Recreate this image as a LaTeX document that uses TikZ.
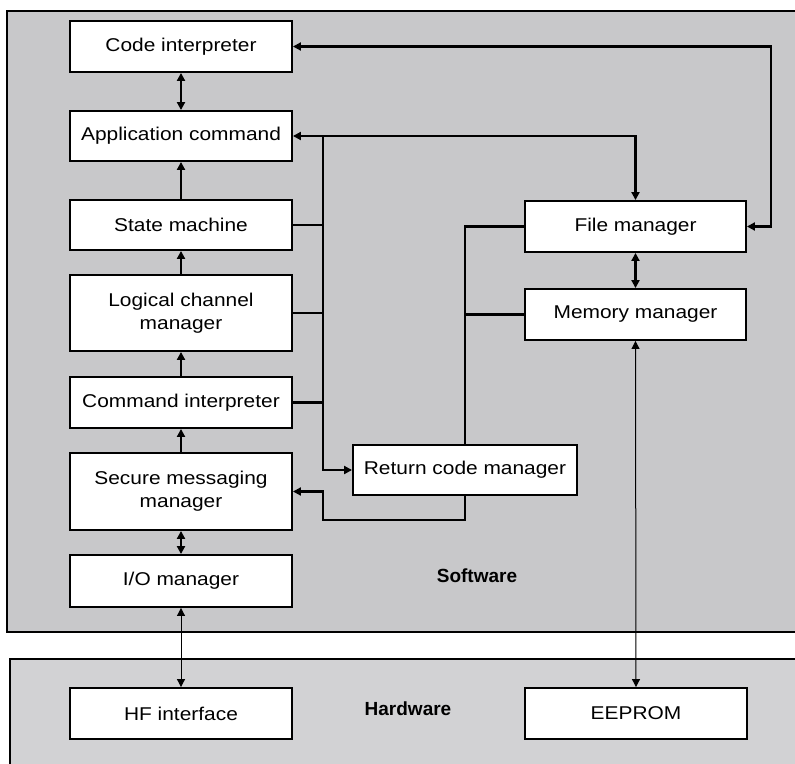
\documentclass[tikz,border=0pt]{standalone}
\usepackage{fontspec}
\setmainfont{Liberation Sans}[FakeStretch=1.13]
\newfontfamily\labfont{Liberation Sans}
\usetikzlibrary{arrows.meta}
\definecolor{swgray}{RGB}{200,200,202}
\definecolor{hwgray}{RGB}{210,210,212}
\tikzset{
  box/.style={draw=black, line width=1.9pt, fill=white, minimum width=222pt,
    inner sep=2pt, align=center, font=\fontsize{18.5}{23}\selectfont},
  conn/.style={draw=black, line width=2.2pt},
  thin/.style={draw=black, line width=1pt},
  tip/.style={arrows={-Triangle[length=8pt,width=8pt]}},
  tips/.style={arrows={Triangle[length=8pt,width=8pt]-Triangle[length=8pt,width=8pt]}},
  panel/.style={draw=black, line width=1.6pt},
  plab/.style={font=\labfont\bfseries\fontsize{19}{22}\selectfont}
}
\begin{document}
\begin{tikzpicture}[x=1pt,y=-1pt]
\useasboundingbox (0,0) rectangle (795,763);
\fill[white] (0,0) rectangle (795,763);
\begin{scope}
\clip (0,0) rectangle (795,763);
\draw[panel, fill=swgray] (7,11) rectangle (810,632);
\draw[panel, fill=hwgray] (10,659) rectangle (810,790);
\end{scope}

% left column
\node[box, minimum height=51pt] (code) at (181,46.5) {Code interpreter};
\node[box, minimum height=50pt] (app) at (181,136) {Application command};
\node[box, minimum height=50pt] (state) at (181,225) {State machine};
\node[box, minimum height=76pt] (lcm) at (181,313) {Logical channel\\manager};
\node[box, minimum height=51pt] (cmd) at (181,402.5) {Command interpreter};
\node[box, minimum height=77pt] (sec) at (181,491.5) {Secure messaging\\manager};
\node[box, minimum height=52pt] (io) at (181,581) {I/O manager};
\node[box, minimum height=51pt] (hf) at (181,713.5) {HF interface};

% right column
\node[box, minimum width=221pt, minimum height=51pt] (file) at (635.5,226.5) {File manager};
\node[box, minimum width=221pt, minimum height=51pt] (mem) at (635.5,314.5) {Memory manager};
\node[box, minimum width=222pt, minimum height=51pt] (eep) at (636,713.5) {EEPROM};
\node[box, minimum width=224pt, minimum height=50pt] (ret) at (465,470) {Return code manager};

% panel labels
\node[plab] (sw) at (477,576) {Software};
\node[plab] (hw) at (408,709) {Hardware};

% helper coordinates
\coordinate (cR) at (771,46.5);
\coordinate (bt) at (323,136);
\coordinate (lp) at (323,520);

% vertical chain
\draw[conn, tips] (app.north) -- (code.south);
\draw[conn, tip] (state.north) -- (app.south);
\draw[conn, tip] (lcm.north) -- (state.south);
\draw[conn, tip] (cmd.north) -- (lcm.south);
\draw[conn, tip] (sec.north) -- (cmd.south);
\draw[conn, tips] (io.north) -- (sec.south);
\draw[thin, tips] (hf.north) -- (io.south);

% code interpreter <-> file manager
\draw[conn, tips] (code.east) -- (cR) |- (file.east);
% file manager <-> application command
\draw[conn, tips] (file.north) |- (app.east);
% bus to return code manager
\draw[conn, tip] (bt) |- (ret.west);
\draw[conn] (state.east) -- (state.east -| bt);
\draw[conn] (lcm.east) -- (lcm.east -| bt);
\draw[conn] (cmd.east) -- (cmd.east -| bt);
% file / memory manager to return code manager
\draw[conn] (file.west) -| (ret.north);
\draw[conn] (mem.west) -- (mem.west -| ret.north);
% return code manager to secure messaging
\draw[conn, tip] (ret.south) |- (lp) -- (lp |- sec.east) -- (sec.east);
% file <-> memory
\draw[conn, tips] (mem.north) -- (file.south);
% memory <-> eeprom
\draw[thin, tips] (eep.north) -- (mem.south);
\end{tikzpicture}
\end{document}
